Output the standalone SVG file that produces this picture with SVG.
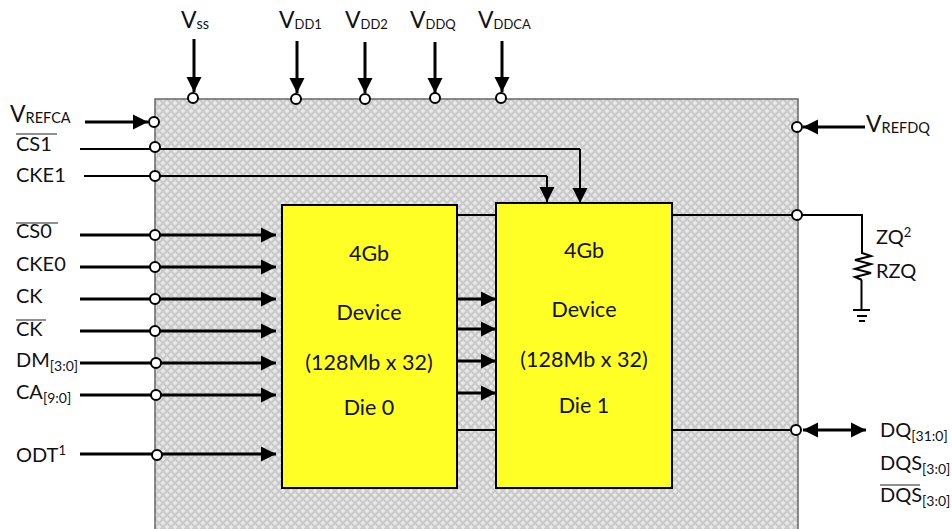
<svg xmlns="http://www.w3.org/2000/svg" width="952" height="529" viewBox="0 0 952 529">
<defs>
<pattern id="hatch" width="8" height="8" patternUnits="userSpaceOnUse" patternTransform="translate(155 99)">
<rect width="8" height="8" fill="#c9c9c9"/>
<path d="M-2.5 0L0 -2.5L2.5 0L0 2.5ZM5.5 0L8 -2.5L10.5 0L8 2.5ZM-2.5 8L0 5.5L2.5 8L0 10.5ZM5.5 8L8 5.5L10.5 8L8 10.5ZM1.5 4L4 1.5L6.5 4L4 6.5Z" fill="#e9e9e9"/>
</pattern>
<marker id="a" markerUnits="userSpaceOnUse" markerWidth="16" markerHeight="16" refX="15" refY="8" orient="auto"><path d="M0 0.5L15 8L0 15.5Z" fill="#000"/></marker>
<marker id="s" markerUnits="userSpaceOnUse" markerWidth="16" markerHeight="16" refX="15" refY="8" orient="auto-start-reverse"><path d="M0 0.5L15 8L0 15.5Z" fill="#000"/></marker>
</defs>
<style>
text{font-family:"Lato","Carlito","Liberation Sans",sans-serif;fill:#111}
.l{font-size:20px}
.v{font-size:23px}
.vs{font-size:14.5px}
.vt{font-size:13px}
.sub{font-size:14px}
.sup{font-size:13px}
.d{font-size:21.5px;text-anchor:middle}
.w{fill:none;stroke:#000;stroke-width:2}
.t{fill:none;stroke:#000;stroke-width:3}
.p{fill:#fff;stroke:#000;stroke-width:2}
.b{fill:#ffff26;stroke:#000;stroke-width:2}
.o{stroke:#222;stroke-width:1;fill:none}
</style>
<rect id="package" x="155" y="99" width="643" height="431" fill="url(#hatch)" stroke="#666" stroke-width="1.5"/>
<g id="connectors">
<path class="t" marker-end="url(#a)" d="M194 39V92"/>
<path class="t" marker-end="url(#a)" d="M297 41V93"/>
<path class="t" marker-end="url(#a)" d="M365 42V93"/>
<path class="t" marker-end="url(#a)" d="M435 42V93"/>
<path class="t" marker-end="url(#a)" d="M502 41V92"/>
<path class="t" marker-end="url(#a)" d="M85 122H148"/>
<path class="t" marker-end="url(#a)" d="M865 127H803"/>
<path class="w" d="M80 149H580"/>
<path class="w" marker-end="url(#a)" d="M580 149V203"/>
<path class="w" d="M84 176H547"/>
<path class="w" marker-end="url(#a)" d="M547 176V202"/>
<path class="t" marker-end="url(#a)" d="M80 235H276"/>
<path class="t" marker-end="url(#a)" d="M80 267H276"/>
<path class="t" marker-end="url(#a)" d="M80 299H276"/>
<path class="t" marker-end="url(#a)" d="M80 331H276"/>
<path class="t" marker-end="url(#a)" d="M80 363H276"/>
<path class="t" marker-end="url(#a)" d="M80 395H276"/>
<path class="t" marker-end="url(#a)" d="M80 454H276"/>
<path class="t" marker-end="url(#a)" d="M458 299H496"/>
<path class="t" marker-end="url(#a)" d="M458 329H496"/>
<path class="t" marker-end="url(#a)" d="M458 361H496"/>
<path class="t" marker-end="url(#a)" d="M458 393H496"/>
<path class="w" d="M458 215H862V254"/>
<path class="w" d="M861.5 280V310M853 310H870M857 316H867M859 321H865"/>
<path fill="none" stroke="#000" stroke-width="2" d="M862 253L871 256L855 260L871 264L855 269L871 273L855 277L862 280"/>
<path class="w" d="M458 430H790"/>
<path class="t" marker-start="url(#s)" marker-end="url(#s)" d="M803 430H866"/>
</g>
<g id="pins">
<circle class="p" cx="193" cy="98" r="5"/>
<circle class="p" cx="296" cy="99" r="5"/>
<circle class="p" cx="365" cy="99" r="5"/>
<circle class="p" cx="435" cy="98" r="5"/>
<circle class="p" cx="501" cy="98" r="5"/>
<circle class="p" cx="154" cy="122" r="5"/>
<circle class="p" cx="155" cy="147" r="5"/>
<circle class="p" cx="155" cy="176" r="5"/>
<circle class="p" cx="155" cy="235" r="5"/>
<circle class="p" cx="155" cy="267" r="5"/>
<circle class="p" cx="155" cy="299" r="5"/>
<circle class="p" cx="155" cy="331" r="5"/>
<circle class="p" cx="156" cy="363" r="5"/>
<circle class="p" cx="156" cy="395" r="5"/>
<circle class="p" cx="157" cy="455" r="5"/>
<circle class="p" cx="797" cy="127" r="5"/>
<circle class="p" cx="797" cy="215" r="5"/>
<circle class="p" cx="796" cy="430" r="5"/>
</g>
<g id="die0">
<rect class="b" x="282" y="205" width="175" height="283"/>
<text class="d" x="369" y="261">4Gb</text>
<text class="d" x="369" y="320">Device</text>
<text class="d" x="369" y="370">(128Mb x 32)</text>
<text class="d" x="369" y="415">Die 0</text>
</g>
<g id="die1">
<rect class="b" x="496" y="203" width="176" height="285"/>
<text class="d" x="584" y="258">4Gb</text>
<text class="d" x="584" y="317">Device</text>
<text class="d" x="584" y="367">(128Mb x 32)</text>
<text class="d" x="584" y="413">Die 1</text>
</g>
<g id="labels">
<text class="v" x="181" y="28">V<tspan class="vs" dy="1">ss</tspan></text>
<text class="v" x="279" y="28">V<tspan class="vt" dy="1">DD1</tspan></text>
<text class="v" x="345" y="28">V<tspan class="vt" dy="1">DD2</tspan></text>
<text class="v" x="410" y="28">V<tspan class="vt" dy="1">DDQ</tspan></text>
<text class="v" x="478" y="28">V<tspan class="vt" dy="1">DDCA</tspan></text>
<text class="v" x="10" y="122">V<tspan class="vs" dy="1">REFCA</tspan></text>
<text class="v" x="866" y="132">V<tspan class="vs" dy="1">REFDQ</tspan></text>
<text class="l" x="16" y="151">CS1</text><path class="o" d="M16 134H57"/>
<text class="l" x="16" y="182">CKE1</text>
<text class="l" x="16" y="238">CS0</text><path class="o" d="M16 223H58"/>
<text class="l" x="16" y="271">CKE0</text>
<text class="l" x="16" y="303">CK</text>
<text class="l" x="16" y="336">CK</text><path class="o" d="M16 320H46"/>
<text class="l" x="16" y="367">DM<tspan class="sub" dy="4">[3:0]</tspan></text>
<text class="l" x="16" y="399">CA<tspan class="sub" dy="4">[9:0]</tspan></text>
<text class="l" x="16" y="462">ODT<tspan class="sup" dy="-7">1</tspan></text>
<text class="l" x="876" y="244">ZQ<tspan class="sup" dy="-7">2</tspan></text>
<text class="l" x="876" y="278">RZQ</text>
<text class="l" x="880" y="437">DQ<tspan class="sub" dy="4">[31:0]</tspan></text>
<text class="l" x="880" y="470">DQS<tspan class="sub" dy="4">[3:0]</tspan></text>
<text class="l" x="880" y="502">DQS<tspan class="sub" dy="4">[3:0]</tspan></text><path class="o" d="M880 485H920"/>
</g>
</svg>
